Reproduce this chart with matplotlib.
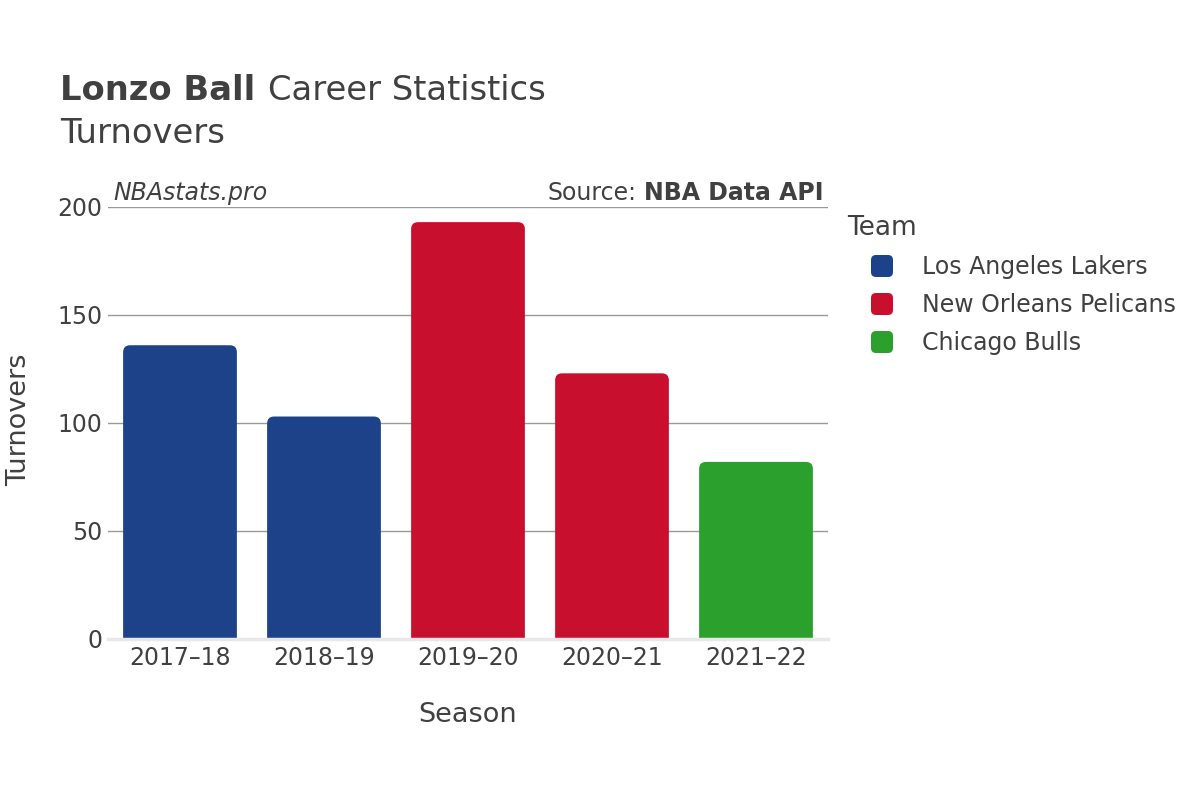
import matplotlib
matplotlib.use("Agg")
import matplotlib.pyplot as plt
from matplotlib.patches import FancyBboxPatch

seasons = ["2017\u201318", "2018\u201319", "2019\u201320", "2020\u201321", "2021\u201322"]
turnovers = [136, 103, 193, 123, 82]
season_team = ["Los Angeles Lakers", "Los Angeles Lakers", "New Orleans Pelicans",
               "New Orleans Pelicans", "Chicago Bulls"]
teams = ["Los Angeles Lakers", "New Orleans Pelicans", "Chicago Bulls"]
team_colors = {"Los Angeles Lakers": "#1d428a",
               "New Orleans Pelicans": "#c8102e",
               "Chicago Bulls": "#2ca02c"}

txt = "#404040"
plt.rcParams['font.family'] = ['DejaVu Sans']

W, H = 1200, 800
fig = plt.figure(figsize=(12, 8), dpi=100)
ax = fig.add_axes([108 / W, 1 - 639 / H, 720 / W, 432 / H])
ax.set_xlim(-0.5, len(seasons) - 0.5)
ax.set_ylim(0, 200)

# rounded top corners, radius kept round in pixels
px_x = len(seasons) / 720
px_y = 200 / 432
aspect = px_y / px_x
r = 7 * px_x
bw = 0.79
for i, (v, t) in enumerate(zip(turnovers, season_team)):
    box = FancyBboxPatch((i - bw / 2, -20), bw, v + 20,
                         boxstyle=f"round,pad=0,rounding_size={r}",
                         mutation_aspect=aspect, fc=team_colors[t], ec="none",
                         zorder=2)
    ax.add_patch(box)

ax.set_yticks([0, 50, 100, 150, 200])
ax.set_xticks(range(len(seasons)))
ax.set_xticklabels(seasons)
ax.tick_params(axis="both", length=0, labelsize=17, colors=txt)
ax.tick_params(axis="x", pad=5)
ax.tick_params(axis="y", pad=4)
ax.grid(axis="y", color="#999999", lw=1, zorder=0)
ax.set_axisbelow(True)
for s in ax.spines.values():
    s.set_visible(False)
ax.axhline(0, color="#e8e8e8", lw=2.5, zorder=3, clip_on=False)

fig.text(468 / W, 1 - 722 / H, "Season", fontsize=19.5, color=txt,
         ha="center", va="baseline")
fig.text(19 / W, 1 - 420 / H, "Turnovers", fontsize=19.5, color=txt,
         ha="center", va="center", rotation=90)

# title
fig.canvas.draw()
rend = fig.canvas.get_renderer()
t1 = fig.text(60 / W, 1 - 100 / H, "Lonzo Ball", fontsize=24.3, fontweight="bold",
              color=txt, va="baseline")
bb = t1.get_window_extent(renderer=rend)
fig.text((bb.x1 + 13) / W, 1 - 100 / H, "Career Statistics", fontsize=24.3,
         color=txt, va="baseline")
fig.text(60 / W, 1 - 143 / H, "Turnovers", fontsize=24.3, color=txt, va="baseline")

fig.text(113 / W, 1 - 200 / H, "NBAstats.pro", fontsize=17, style="italic",
         color=txt, va="baseline")
s2 = fig.text(824 / W, 1 - 200 / H, "NBA Data API", fontsize=17, fontweight="bold",
              color=txt, va="baseline", ha="right")
bb2 = s2.get_window_extent(renderer=rend)
fig.text((bb2.x0 - 8) / W, 1 - 200 / H, "Source:", fontsize=17,
         color=txt, va="baseline", ha="right")

# legend
fig.text(847 / W, 1 - 228 / H, "Team", fontsize=19, color=txt, va="center")
for k, team in enumerate(teams):
    yc = 266 + 38 * k
    sq = FancyBboxPatch(((882 - 11) / W, 1 - (yc + 11) / H), 22 / W, 22 / H,
                        boxstyle=f"round,pad=0,rounding_size={5 / W}",
                        mutation_aspect=W / H, transform=fig.transFigure,
                        fc=team_colors[team], ec="none")
    fig.add_artist(sq)
    fig.text(922 / W, 1 - (yc + 1) / H, team, fontsize=17, color=txt, va="center")

fig.savefig("out.png", dpi=100, facecolor="white")
